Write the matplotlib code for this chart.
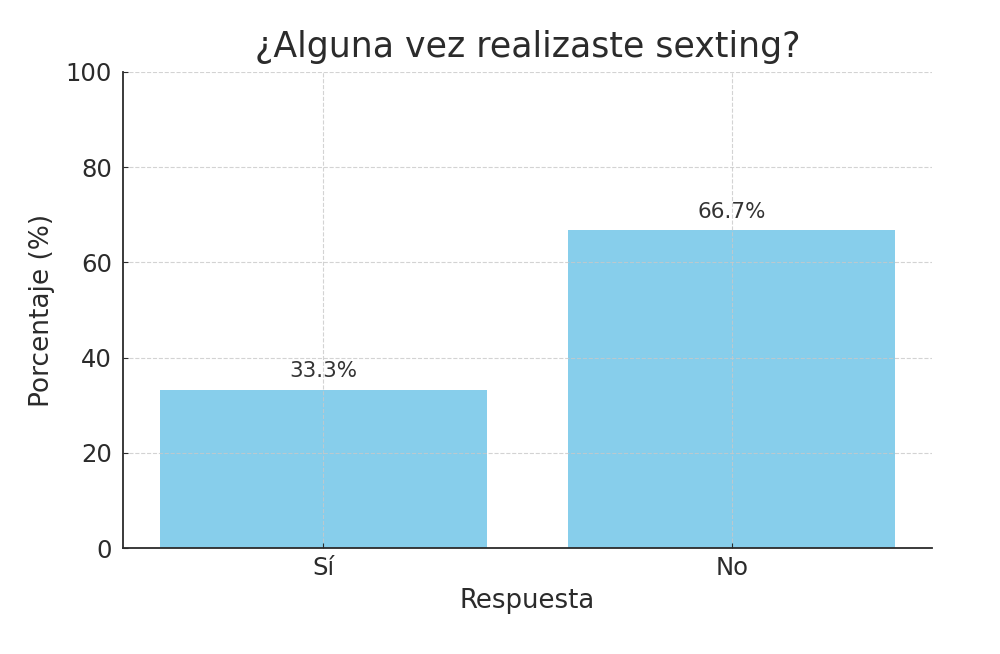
import matplotlib
matplotlib.use("Agg")
import matplotlib.pyplot as plt

# Datos
respuestas = ["Sí", "No"]
porcentajes = [33.3, 66.7]
etiquetas = ["33.3%", "66.7%"]

plt.rcParams['font.family'] = ['DejaVu Sans']
plt.rcParams['text.color'] = '#2b2b2b'
plt.rcParams['axes.labelcolor'] = '#2b2b2b'
plt.rcParams['xtick.color'] = '#2b2b2b'
plt.rcParams['ytick.color'] = '#2b2b2b'

fig, ax = plt.subplots(figsize=(10, 6.54), dpi=100)
fig.subplots_adjust(left=0.123, right=0.932, top=0.89, bottom=0.162)

bars = ax.bar(respuestas, porcentajes, color='skyblue')

for b, txt in zip(bars, etiquetas):
    ax.text(b.get_x() + b.get_width() / 2, b.get_height() + 1.8, txt,
            ha='center', va='bottom', fontsize=15.5, color='#333333')

ax.set_ylim(0, 100)
ax.set_title("¿Alguna vez realizaste sexting?", fontsize=25, color='#2b2b2b', pad=11)
ax.set_xlabel("Respuesta", fontsize=18.7, labelpad=6)
ax.set_ylabel("Porcentaje (%)", fontsize=19, labelpad=7.5)
ax.tick_params(axis='both', labelsize=17.5, direction='in')
ax.tick_params(axis='x', pad=5.5)
ax.tick_params(axis='y', pad=8)
ax.grid(True, linestyle='--', color='#c8c8c8', alpha=0.8)

ax.spines['top'].set_visible(False)
ax.spines['right'].set_visible(False)
ax.spines['left'].set_color('#2b2b2b')
ax.spines['bottom'].set_color('#2b2b2b')
ax.spines['left'].set_linewidth(1.3)
ax.spines['bottom'].set_linewidth(1.3)

plt.savefig("out.png", dpi=100)
